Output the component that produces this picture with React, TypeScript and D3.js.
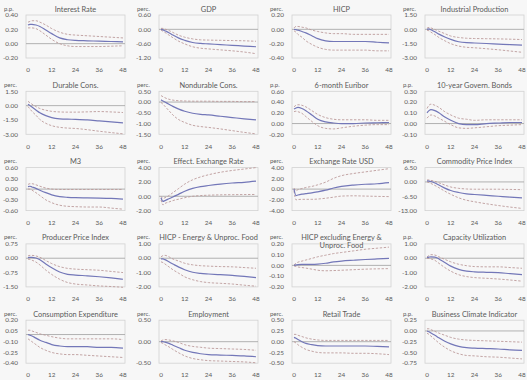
import React from "react";
import * as d3 from "d3";

// Horizon (months) at which each response is sampled
const months = [0, 1, 2, 4, 6, 9, 12, 16, 20, 24, 30, 36, 42, 48];
const xTicks = [0, 12, 24, 36, 48];

// --- Interest Rate ---
const rateMid = [0.26, 0.27, 0.27, 0.26, 0.24, 0.19, 0.14, 0.08, 0.055, 0.045, 0.04, 0.035, 0.03, 0.025];
const rateLow = [0.22, 0.22, 0.22, 0.21, 0.18, 0.12, 0.06, 0.0, -0.03, -0.04, -0.04, -0.04, -0.035, -0.03];
const rateHigh = [0.3, 0.31, 0.32, 0.32, 0.3, 0.26, 0.21, 0.16, 0.13, 0.12, 0.11, 0.1, 0.09, 0.08];
const rateTicks = [0.4, 0.2, 0.0, -0.2];

// --- GDP ---
const gdpMid = [0.0, -0.02, -0.06, -0.14, -0.24, -0.37, -0.46, -0.55, -0.59, -0.61, -0.64, -0.67, -0.7, -0.73];
const gdpLow = [-0.03, -0.08, -0.13, -0.24, -0.35, -0.5, -0.61, -0.73, -0.79, -0.82, -0.86, -0.9, -0.95, -1.02];
const gdpHigh = [0.04, 0.04, 0.01, -0.05, -0.13, -0.25, -0.33, -0.4, -0.44, -0.45, -0.46, -0.47, -0.48, -0.5];
const gdpTicks = [0.6, 0.0, -0.6, -1.2];

// --- HICP ---
const hicpMid = [0.0, -0.005, -0.01, -0.03, -0.05, -0.09, -0.13, -0.16, -0.17, -0.17, -0.17, -0.17, -0.18, -0.19];
const hicpLow = [-0.02, -0.04, -0.07, -0.11, -0.16, -0.21, -0.25, -0.28, -0.29, -0.29, -0.29, -0.29, -0.3, -0.3];
const hicpHigh = [0.02, 0.04, 0.04, 0.03, 0.02, -0.01, -0.03, -0.05, -0.06, -0.06, -0.07, -0.07, -0.07, -0.07];
const hicpTicks = [0.2, 0.0, -0.2, -0.4];

// --- Industrial Production ---
const indMid = [0.0, 0.05, -0.05, -0.25, -0.5, -0.8, -1.05, -1.3, -1.4, -1.43, -1.48, -1.54, -1.6, -1.65];
const indLow = [-0.1, -0.15, -0.3, -0.55, -0.85, -1.2, -1.5, -1.75, -1.88, -1.93, -2.03, -2.14, -2.27, -2.4];
const indHigh = [0.12, 0.2, 0.15, -0.02, -0.2, -0.45, -0.7, -0.85, -0.93, -0.96, -0.98, -1.0, -1.03, -1.07];
const indTicks = [1.5, 0.0, -1.5, -3.0];

// --- Durable Cons. ---
const durMid = [0.15, 0.0, -0.15, -0.45, -0.75, -1.05, -1.25, -1.38, -1.42, -1.43, -1.5, -1.6, -1.7, -1.8];
const durLow = [-0.1, -0.35, -0.6, -1.0, -1.45, -1.85, -2.1, -2.27, -2.35, -2.39, -2.52, -2.68, -2.82, -2.95];
const durHigh = [0.45, 0.3, 0.15, -0.1, -0.3, -0.48, -0.6, -0.66, -0.68, -0.68, -0.65, -0.62, -0.66, -0.72];
const durTicks = [1.5, 0.0, -1.5, -3.0];

// --- Nondurable Cons. ---
const ndurMid = [0.1, 0.05, 0.0, -0.1, -0.2, -0.33, -0.43, -0.52, -0.57, -0.6, -0.66, -0.72, -0.78, -0.83];
const ndurLow = [-0.02, -0.1, -0.2, -0.4, -0.6, -0.82, -0.95, -1.08, -1.14, -1.18, -1.25, -1.33, -1.41, -1.48];
const ndurHigh = [0.3, 0.25, 0.2, 0.13, 0.09, 0.06, 0.05, 0.04, 0.04, 0.04, 0.03, 0.03, 0.02, 0.02];
const ndurTicks = [0.5, 0.0, -0.5, -1.0, -1.5];

// --- 6-month Euribor ---
const eurMid = [0.27, 0.29, 0.3, 0.28, 0.24, 0.16, 0.08, 0.03, 0.01, 0.0, 0.0, 0.01, 0.015, 0.02];
const eurLow = [0.22, 0.23, 0.22, 0.19, 0.13, 0.04, -0.04, -0.09, -0.1, -0.08, -0.05, -0.03, -0.02, -0.02];
const eurHigh = [0.31, 0.34, 0.35, 0.34, 0.31, 0.24, 0.17, 0.11, 0.08, 0.07, 0.07, 0.07, 0.06, 0.06];
const eurTicks = [0.6, 0.4, 0.2, 0.0, -0.2];

// --- 10-year Govern. Bonds ---
const bondMid = [0.1, 0.12, 0.13, 0.12, 0.1, 0.06, 0.03, 0.0, -0.01, -0.01, 0.0, 0.005, 0.01, 0.01];
const bondLow = [0.05, 0.07, 0.08, 0.07, 0.05, 0.02, -0.01, -0.04, -0.045, -0.04, -0.03, -0.02, -0.015, -0.01];
const bondHigh = [0.14, 0.17, 0.18, 0.17, 0.15, 0.11, 0.08, 0.05, 0.04, 0.03, 0.035, 0.035, 0.035, 0.035];
const bondTicks = [0.3, 0.2, 0.1, 0.0, -0.1];

// --- M3 ---
const m3Mid = [0.07, 0.08, 0.06, 0.02, -0.03, -0.1, -0.16, -0.21, -0.23, -0.24, -0.245, -0.25, -0.26, -0.28];
const m3Low = [0.0, 0.0, -0.03, -0.1, -0.18, -0.3, -0.38, -0.45, -0.48, -0.49, -0.5, -0.5, -0.53, -0.56];
const m3High = [0.13, 0.15, 0.15, 0.12, 0.08, 0.03, 0.0, -0.01, -0.01, -0.01, -0.01, -0.01, -0.01, -0.01];
const m3Ticks = [0.6, 0.3, 0.0, -0.3, -0.6];

// --- Effect. Exchange Rate ---
const eerMid = [-0.2, -0.7, -0.6, -0.35, -0.1, 0.3, 0.7, 1.1, 1.35, 1.5, 1.7, 1.85, 1.95, 2.1];
const eerLow = [-0.5, -1.2, -1.0, -0.8, -0.6, -0.4, -0.2, 0.0, 0.1, 0.15, 0.2, 0.22, 0.24, 0.25];
const eerHigh = [0.0, -0.3, -0.2, 0.1, 0.5, 1.1, 1.7, 2.3, 2.7, 3.0, 3.35, 3.6, 3.8, 4.0];
const eerTicks = [4.0, 2.0, 0.0, -2.0];

// --- Exchange Rate USD ---
const usdMid = [0.0, -1.2, -1.1, -0.95, -0.85, -0.7, -0.5, -0.2, 0.2, 0.5, 0.75, 0.9, 1.0, 1.2];
const usdLow = [-0.3, -2.0, -1.95, -1.9, -1.9, -1.9, -1.85, -1.7, -1.5, -1.3, -1.25, -1.3, -1.35, -1.4];
const usdHigh = [0.2, -0.3, -0.1, 0.1, 0.3, 0.5, 0.8, 1.3, 2.0, 2.5, 2.9, 3.2, 3.5, 3.8];
const usdTicks = [4.0, 2.0, 0.0, -2.0, -4.0];

// --- Commodity Price Index ---
const comMid = [0.5, 0.4, 0.2, -0.5, -1.4, -2.8, -3.9, -4.8, -5.4, -5.7, -6.1, -6.5, -6.9, -7.2];
const comLow = [0.0, -0.3, -0.7, -1.6, -2.6, -4.2, -5.6, -7.2, -8.3, -9.0, -9.9, -10.7, -11.4, -12.0];
const comHigh = [0.9, 0.9, 0.7, 0.3, -0.4, -1.4, -2.3, -2.9, -3.2, -3.3, -3.3, -3.3, -3.4, -3.5];
const comTicks = [6.5, 0.0, -6.5, -13.0];

// --- Producer Price Index ---
const ppiMid = [0.03, 0.05, 0.05, 0.01, -0.08, -0.3, -0.5, -0.72, -0.84, -0.88, -0.92, -0.97, -1.03, -1.1];
const ppiLow = [-0.05, -0.06, -0.1, -0.2, -0.35, -0.62, -0.85, -1.1, -1.27, -1.35, -1.4, -1.45, -1.48, -1.52];
const ppiHigh = [0.12, 0.15, 0.15, 0.12, 0.05, -0.12, -0.28, -0.44, -0.53, -0.57, -0.6, -0.63, -0.69, -0.75];
const ppiTicks = [0.75, 0.0, -0.75, -1.5];

// --- HICP - Energy & Unproc. Food ---
const enMid = [-0.05, -0.05, -0.1, -0.25, -0.4, -0.62, -0.8, -0.98, -1.06, -1.1, -1.15, -1.2, -1.27, -1.35];
const enLow = [-0.25, -0.3, -0.4, -0.6, -0.8, -1.05, -1.3, -1.5, -1.63, -1.7, -1.75, -1.8, -1.88, -1.95];
const enHigh = [0.1, 0.18, 0.2, 0.1, -0.05, -0.2, -0.35, -0.46, -0.52, -0.55, -0.58, -0.6, -0.65, -0.7];
const enTicks = [1.0, 0.0, -1.0, -2.0];

// --- HICP excluding Energy & Unproc. Food ---
const coreMid = [0.0, 0.005, 0.008, 0.01, 0.01, 0.01, 0.012, 0.02, 0.032, 0.04, 0.048, 0.055, 0.06, 0.065];
const coreLow = [-0.005, -0.01, -0.015, -0.02, -0.025, -0.035, -0.045, -0.05, -0.048, -0.045, -0.04, -0.035, -0.032, -0.03];
const coreHigh = [0.005, 0.02, 0.03, 0.04, 0.05, 0.065, 0.08, 0.095, 0.11, 0.12, 0.135, 0.15, 0.16, 0.17];
const coreTicks = [0.2, 0.1, 0.0, -0.1, -0.2];

// --- Capacity Utilization ---
const capMid = [0.05, 0.08, 0.1, 0.08, -0.05, -0.3, -0.55, -0.78, -0.9, -0.95, -0.98, -1.0, -1.08, -1.15];
const capLow = [0.0, -0.02, -0.05, -0.15, -0.35, -0.65, -0.9, -1.15, -1.28, -1.35, -1.4, -1.45, -1.52, -1.6];
const capHigh = [0.1, 0.18, 0.25, 0.22, 0.1, -0.08, -0.25, -0.42, -0.52, -0.58, -0.6, -0.6, -0.65, -0.7];
const capTicks = [1.0, 0.0, -1.0, -2.0];

// --- Consumption Expenditure ---
const ceMid = [0.0, -0.01, -0.02, -0.05, -0.08, -0.11, -0.14, -0.16, -0.17, -0.17, -0.17, -0.18, -0.18, -0.19];
const ceLow = [-0.06, -0.08, -0.1, -0.14, -0.18, -0.22, -0.25, -0.27, -0.28, -0.28, -0.29, -0.3, -0.31, -0.32];
const ceHigh = [0.06, 0.06, 0.05, 0.03, 0.01, -0.01, -0.03, -0.05, -0.06, -0.06, -0.06, -0.06, -0.06, -0.07];
const ceTicks = [0.2, 0.05, -0.1, -0.25, -0.4];

// --- Employment ---
const empMid = [0.0, 0.0, -0.01, -0.04, -0.08, -0.14, -0.2, -0.25, -0.28, -0.3, -0.31, -0.32, -0.33, -0.35];
const empLow = [-0.02, -0.04, -0.07, -0.12, -0.18, -0.26, -0.33, -0.39, -0.42, -0.44, -0.45, -0.46, -0.47, -0.49];
const empHigh = [0.02, 0.04, 0.05, 0.04, 0.02, -0.02, -0.07, -0.11, -0.13, -0.15, -0.16, -0.17, -0.18, -0.2];
const empTicks = [0.5, 0.0, -0.5];

// --- Retail Trade ---
const retMid = [0.1, 0.08, 0.05, 0.0, -0.04, -0.07, -0.09, -0.1, -0.1, -0.1, -0.1, -0.1, -0.11, -0.12];
const retLow = [0.0, -0.03, -0.07, -0.13, -0.18, -0.22, -0.25, -0.26, -0.26, -0.26, -0.27, -0.27, -0.28, -0.3];
const retHigh = [0.17, 0.17, 0.15, 0.12, 0.09, 0.06, 0.04, 0.03, 0.03, 0.03, 0.03, 0.03, 0.03, 0.03];
const retTicks = [0.5, 0.25, 0.0, -0.25, -0.5];

// --- Business Climate Indicator ---
const bciMid = [0.0, -0.02, -0.05, -0.1, -0.16, -0.24, -0.3, -0.36, -0.39, -0.4, -0.41, -0.42, -0.44, -0.45];
const bciLow = [-0.05, -0.08, -0.12, -0.2, -0.28, -0.38, -0.46, -0.53, -0.57, -0.58, -0.6, -0.61, -0.63, -0.65];
const bciHigh = [0.05, 0.05, 0.03, -0.01, -0.05, -0.1, -0.15, -0.19, -0.21, -0.22, -0.23, -0.24, -0.25, -0.26];
const bciTicks = [0.25, 0.0, -0.25, -0.5, -0.75];

type Panel = {
  title: string[];
  unit: string;
  ticks: number[];
  mid: number[];
  low: number[];
  high: number[];
};

const panels: Panel[] = [
  { title: ["Interest Rate"], unit: "p.p.", ticks: rateTicks, mid: rateMid, low: rateLow, high: rateHigh },
  { title: ["GDP"], unit: "perc.", ticks: gdpTicks, mid: gdpMid, low: gdpLow, high: gdpHigh },
  { title: ["HICP"], unit: "perc.", ticks: hicpTicks, mid: hicpMid, low: hicpLow, high: hicpHigh },
  { title: ["Industrial Production"], unit: "perc.", ticks: indTicks, mid: indMid, low: indLow, high: indHigh },
  { title: ["Durable Cons."], unit: "perc.", ticks: durTicks, mid: durMid, low: durLow, high: durHigh },
  { title: ["Nondurable Cons."], unit: "perc.", ticks: ndurTicks, mid: ndurMid, low: ndurLow, high: ndurHigh },
  { title: ["6-month Euribor"], unit: "p.p.", ticks: eurTicks, mid: eurMid, low: eurLow, high: eurHigh },
  { title: ["10-year Govern. Bonds"], unit: "p.p.", ticks: bondTicks, mid: bondMid, low: bondLow, high: bondHigh },
  { title: ["M3"], unit: "perc.", ticks: m3Ticks, mid: m3Mid, low: m3Low, high: m3High },
  { title: ["Effect. Exchange Rate"], unit: "perc.", ticks: eerTicks, mid: eerMid, low: eerLow, high: eerHigh },
  { title: ["Exchange Rate USD"], unit: "perc.", ticks: usdTicks, mid: usdMid, low: usdLow, high: usdHigh },
  { title: ["Commodity Price Index"], unit: "perc.", ticks: comTicks, mid: comMid, low: comLow, high: comHigh },
  { title: ["Producer Price Index"], unit: "perc.", ticks: ppiTicks, mid: ppiMid, low: ppiLow, high: ppiHigh },
  { title: ["HICP - Energy & Unproc. Food"], unit: "perc.", ticks: enTicks, mid: enMid, low: enLow, high: enHigh },
  { title: ["HICP excluding Energy &", "Unproc. Food"], unit: "perc.", ticks: coreTicks, mid: coreMid, low: coreLow, high: coreHigh },
  { title: ["Capacity Utilization"], unit: "p.p.", ticks: capTicks, mid: capMid, low: capLow, high: capHigh },
  { title: ["Consumption Expenditure"], unit: "perc.", ticks: ceTicks, mid: ceMid, low: ceLow, high: ceHigh },
  { title: ["Employment"], unit: "perc.", ticks: empTicks, mid: empMid, low: empLow, high: empHigh },
  { title: ["Retail Trade"], unit: "perc.", ticks: retTicks, mid: retMid, low: retLow, high: retHigh },
  { title: ["Business Climate Indicator"], unit: "p.p.", ticks: bciTicks, mid: bciMid, low: bciLow, high: bciHigh },
];

const W = 527;
const H = 380;
const COLS = 4;
const colStep = 133;
const rowStep = 76.3;
const plotW = 95;
const plotH = 43;
const FONT = "Lato, 'Open Sans', sans-serif";
const TEXT = "#5a5a5a";

function fmt(v: number) {
  return v.toFixed(2);
}

function PanelChart({ p, i }: { p: Panel; i: number }) {
  const c = i % COLS;
  const r = Math.floor(i / COLS);
  const x0 = 28 + c * colStep;
  const top = 15 + r * rowStep;

  const x = d3.scaleLinear().domain([0, 48]).range([x0, x0 + plotW]);
  const y = d3
    .scaleLinear()
    .domain([d3.min(p.ticks) as number, d3.max(p.ticks) as number])
    .range([top + plotH, top]);

  const line = d3
    .line<number>()
    .x((_, k) => x(months[k]))
    .y((v) => y(v))
    .curve(d3.curveMonotoneX);

  const cx = x0 + plotW / 2;

  return (
    <g>
      <rect
        x={x0 - 2}
        y={top}
        width={plotW + 4}
        height={plotH}
        fill="none"
        stroke="#d2d2d2"
        strokeWidth={0.8}
      />
      <line x1={x0 - 2} x2={x0 + plotW + 2} y1={y(0)} y2={y(0)} stroke="#a9a9a9" strokeWidth={0.9} />
      <path d={line(p.high) || ""} fill="none" stroke="#bc9b9b" strokeWidth={0.9} strokeDasharray="2.4,1.6" />
      <path d={line(p.low) || ""} fill="none" stroke="#bc9b9b" strokeWidth={0.9} strokeDasharray="2.4,1.6" />
      <path d={line(p.mid) || ""} fill="none" stroke="#7377b8" strokeWidth={1.2} />

      {p.ticks.map((t) => (
        <text
          key={t}
          x={x0 - 10}
          y={y(t)}
          dy="0.35em"
          textAnchor="end"
          fontSize={6.4}
          fill={TEXT}
          fontFamily={FONT}
        >
          {fmt(t)}
        </text>
      ))}
      <text x={x0 - 24} y={top - 4.5} fontSize={6} fill={TEXT} fontFamily={FONT}>
        {p.unit}
      </text>

      {xTicks.map((t) => (
        <text
          key={t}
          x={x(t)}
          y={top + 55}
          dy="0.35em"
          textAnchor="middle"
          fontSize={6.4}
          fill={TEXT}
          fontFamily={FONT}
        >
          {t}
        </text>
      ))}

      <text x={cx} y={top - 3.5} textAnchor="middle" fontSize={7.4} fill={TEXT} fontFamily={FONT}>
        {p.title.map((s, k) => (
          <tspan key={k} x={cx} dy={k === 0 ? 0 : 8}>
            {s}
          </tspan>
        ))}
      </text>
    </g>
  );
}

export default function App() {
  return (
    <svg
      width={W}
      height={H}
      viewBox={`0 0 ${W} ${H}`}
      style={{ position: "fixed", left: 0, top: 0, background: "#f7f7f7" }}
    >
      {panels.map((p, i) => (
        <PanelChart key={i} p={p} i={i} />
      ))}
    </svg>
  );
}
